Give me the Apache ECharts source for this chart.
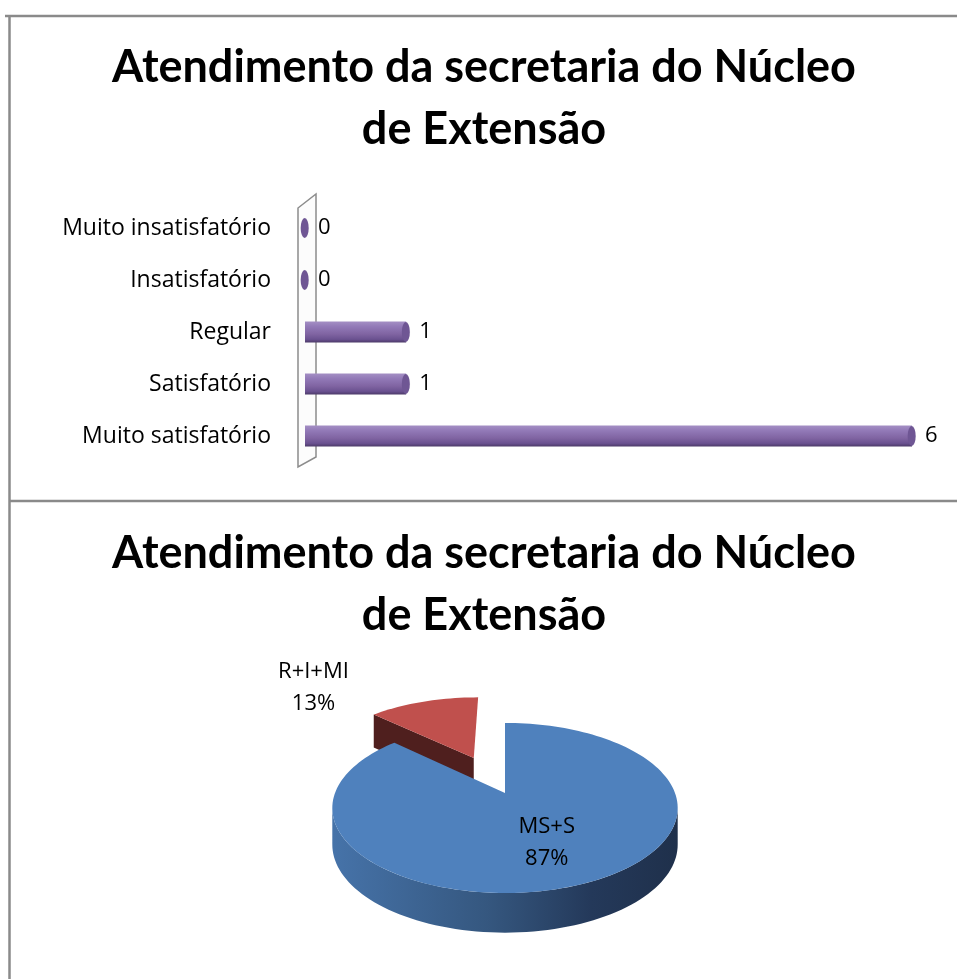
<!DOCTYPE html>
<html>
<head>
<meta charset="utf-8">
<script src="https://cdn.jsdelivr.net/npm/echarts@6/dist/echarts.min.js"></script>
<style>
    html, body { margin: 0; padding: 0; background: #fff; }
    #chart { width: 957px; height: 979px; }
</style>
</head>
<body>
<div id="chart"></div>
<script>
    // dados do gráfico de barras (de baixo para cima)
    const barCategories = ['Muito satisfatório', 'Satisfatório', 'Regular', 'Insatisfatório', 'Muito insatisfatório'];
    const barValues = [6, 1, 1, 0, 0];
    // dados da pizza
    const pieNames = ['MS+S', 'R+I+MI'];
    const pieValues = [87, 13];

    const titleText = 'Atendimento da secretaria do Núcleo\nde Extensão';
    const font = 'Open Sans';
    const titleFont = 'Lato';

    // geometria da pizza 3D (com perspectiva simples)
    const PIE = {
        cx: 505, cy: 793, A: 170, B: 82.4, p: 0.176, D: 36,
        explode: [0, 0.5],
        colors: [
            {top: '#4f81bd', side: '#2c4a70',
                wall: [{offset: 0, color: '#4673a9'}, {offset: 0.45, color: '#35577f'}, {offset: 0.75, color: '#24395a'}, {offset: 1, color: '#1f304b'}]},
            {top: '#c0504d', side: '#4f1f1e',
                wall: [{offset: 0, color: '#7a2c2a'}, {offset: 1, color: '#4f1f1e'}]}
        ]
    };

    function renderPie(params, api) {
        const i = params.dataIndex;
        const total = pieValues.reduce((s, v) => s + v, 0);
        let before = 0;
        for (let k = 0; k < i; k++) before += pieValues[k];
        const a = before / total * 2 * Math.PI;
        const b = (before + pieValues[i]) / total * 2 * Math.PI;
        const mid = (a + b) / 2;
        const ex = PIE.explode[i] || 0;
        // ângulo a partir das 12h, sentido horário
        const pt = (t, r, bottom) => {
            const u = r * Math.sin(t) + ex * Math.sin(mid);
            const v = -r * Math.cos(t) - ex * Math.cos(mid);
            const d = 1 - PIE.p * v;
            return [PIE.cx + PIE.A * u / d, PIE.cy + PIE.B * v / d + (bottom ? PIE.D / Math.sqrt(d) : 0)];
        };
        const arc = (t0, t1, bottom) => {
            const n = Math.max(2, Math.ceil((t1 - t0) / (Math.PI / 90)));
            const pts = [];
            for (let k = 0; k <= n; k++) pts.push(pt(t0 + (t1 - t0) * k / n, 1, bottom));
            return pts;
        };
        const c = PIE.colors[i];
        const zb = Math.cos(mid) > 0 ? 0 : 10; // fatias de trás primeiro
        const children = [];

        // parede externa (só a parte visível da frente)
        const vis = Math.acos(-PIE.p);
        const w0 = Math.max(a, vis), w1 = Math.min(b, 2 * Math.PI - vis);
        if (w1 > w0) {
            const top = arc(w0, w1, false), bot = arc(w0, w1, true).reverse();
            children.push({
                type: 'polygon', z2: zb + 1,
                shape: {points: top.concat(bot)},
                style: {fill: new echarts.graphic.LinearGradient(0, 0, 1, 0, c.wall)}
            });
        }
        // faces de corte visíveis
        const face = (t) => ({
            type: 'polygon', z2: zb + 2,
            shape: {points: [pt(t, 0, false), pt(t, 1, false), pt(t, 1, true), pt(t, 0, true)]},
            style: {fill: c.side}
        });
        if (Math.sin(a) < -0.01) children.push(face(a));
        if (Math.sin(b) > 0.01) children.push(face(b));
        // topo
        children.push({
            type: 'polygon', z2: zb + 3,
            shape: {points: [pt(0, 0, false)].concat(arc(a, b, false))},
            style: {fill: c.top}
        });
        // rótulo
        const pct = Math.round(pieValues[i] / total * 100) + '%';
        let lx, ly;
        if (pieValues[i] / total >= 0.2) {
            const p = pt(mid, 0.5, false);
            lx = p[0] + 5; ly = p[1] + 9;
        } else {
            const p = pt(mid, 1, false);
            lx = p[0] - 110; ly = p[1] - 14;
        }
        children.push({
            type: 'text', z2: 30,
            x: lx, y: ly,
            style: {
                text: pieNames[i] + '\n' + pct,
                fontFamily: font, fontSize: 22, lineHeight: 32,
                fill: '#000', align: 'center', verticalAlign: 'middle'
            }
        });
        return {type: 'group', children: children};
    }

    const borderColor = '#8a8a8a';
    const titleStyle = {fontFamily: titleFont, fontSize: 45, fontWeight: 'bold', color: '#000', lineHeight: 62};

    const option = {
        animation: false,
        backgroundColor: '#fff',
        title: [
            {text: titleText, left: 484, top: 36, padding: 0, textAlign: 'center', textStyle: titleStyle},
            {text: titleText, left: 484, top: 522, padding: 0, textAlign: 'center', textStyle: titleStyle}
        ],
        graphic: [
            // moldura
            {type: 'line', z: 0, shape: {x1: 5, y1: 16, x2: 957, y2: 16}, style: {stroke: borderColor, lineWidth: 2.5}},
            {type: 'line', z: 0, shape: {x1: 9.5, y1: 16, x2: 9.5, y2: 979}, style: {stroke: borderColor, lineWidth: 2.5}},
            {type: 'line', z: 0, shape: {x1: 9, y1: 501, x2: 957, y2: 501}, style: {stroke: borderColor, lineWidth: 2.5}},
            // parede do eixo
            {type: 'polygon', z: 0, shape: {points: [[298, 208], [316, 194], [316, 457], [298, 467]]},
                style: {fill: '#fcfcfc', stroke: '#8c8c8c', lineWidth: 1.5}}
        ],
        grid: {left: 305, top: 202, width: 607, height: 260, containLabel: false},
        xAxis: {type: 'value', min: 0, max: 6, show: false},
        yAxis: {
            type: 'category',
            data: barCategories,
            axisLine: {show: false},
            axisTick: {show: false},
            axisLabel: {fontFamily: font, fontSize: 23, color: '#000', margin: 34}
        },
        series: [
            {
                type: 'bar',
                data: barValues,
                barWidth: 21,
                itemStyle: {
                    color: new echarts.graphic.LinearGradient(0, 0, 0, 1, [
                        {offset: 0, color: '#a48fc4'},
                        {offset: 0.25, color: '#9279b7'},
                        {offset: 0.6, color: '#8064a2'},
                        {offset: 0.85, color: '#6a5190'},
                        {offset: 1, color: '#4c3a68'}
                    ])
                },
                label: {show: true, position: 'right', distance: 13, fontFamily: font, fontSize: 22, color: '#000'}
            },
            {
                type: 'pictorialBar',
                data: barValues,
                symbol: 'circle',
                symbolSize: [8, 20],
                symbolPosition: 'end',
                symbolOffset: ['50%', 0],
                z: 3,
                itemStyle: {color: '#6f5694', borderColor: '#5a4479', borderWidth: 1}
            },
            {
                type: 'custom',
                coordinateSystem: 'none',
                renderItem: renderPie,
                data: pieValues.map((v, i) => ({name: pieNames[i], value: v}))
            }
        ]
    };

    const myChart = echarts.init(document.getElementById('chart'));
    myChart.setOption(option);
</script>
</body>
</html>
